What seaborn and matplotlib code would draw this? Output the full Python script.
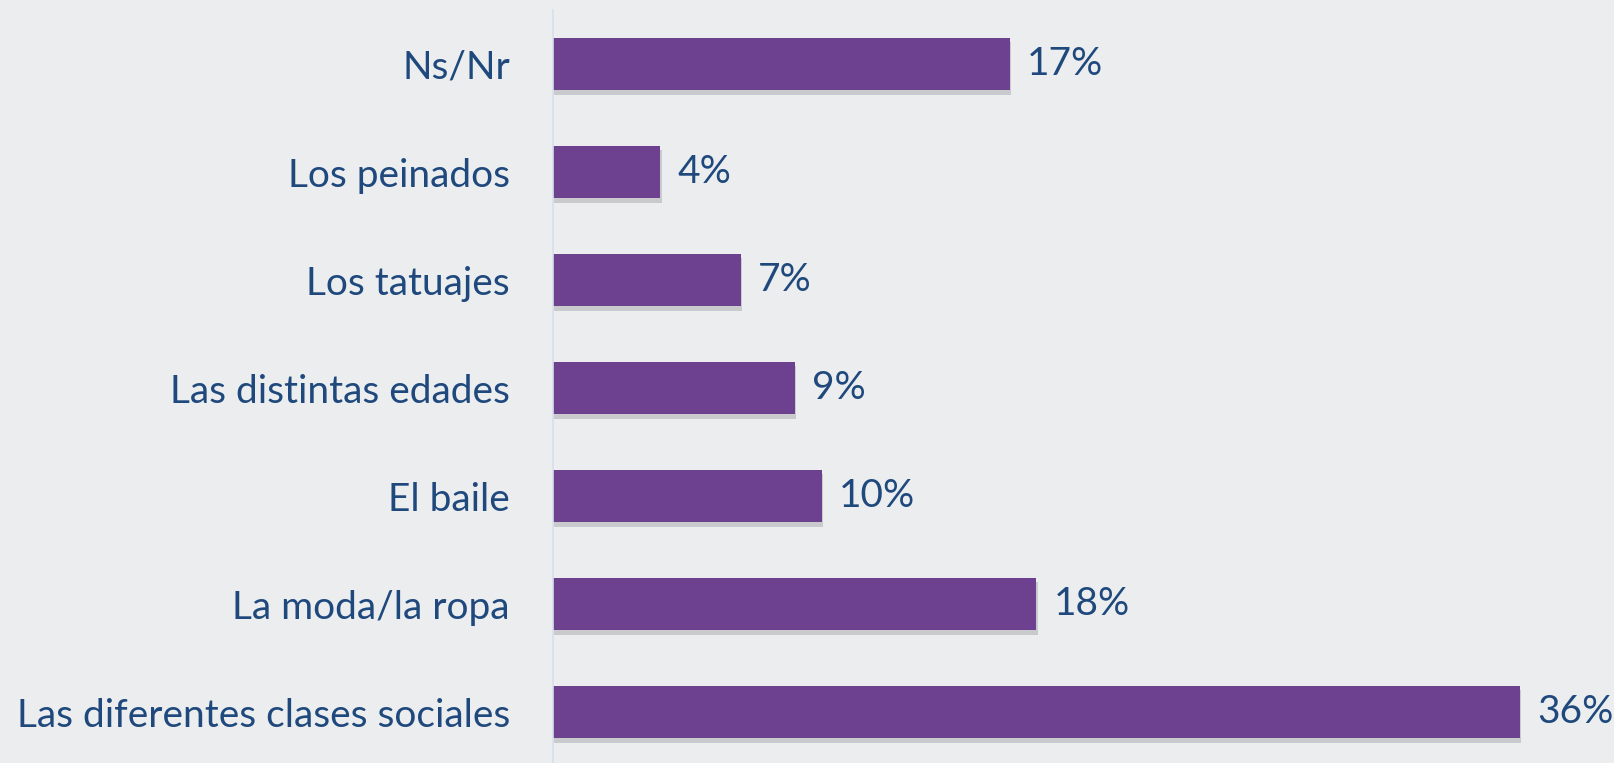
import matplotlib
matplotlib.use("Agg")
import matplotlib.pyplot as plt
import matplotlib.patheffects as pe
import seaborn as sns
import pandas as pd

# === DATA ===
categories = [
    "Ns/Nr",
    "Los peinados",
    "Los tatuajes",
    "Las distintas edades",
    "El baile",
    "La moda/la ropa",
    "Las diferentes clases sociales",
]
values = [17, 4, 7, 9, 10, 18, 36]

BG = "#ECEDEF"
BAR = "#6E4190"
TEXT = "#1F497D"

# === STYLE CONFIGURATION ===
sns.set_theme(style="white")
plt.rcParams["font.family"] = ["Lato", "DejaVu Sans"]

df = pd.DataFrame({"categoria": categories, "pct": values})

fig = plt.figure(figsize=(16.14, 7.63), dpi=100, facecolor=BG)
ax = fig.add_axes([553 / 1614, -3 / 763, 1 - 553 / 1614, 756 / 763])
ax.set_facecolor(BG)

sns.barplot(data=df, y="categoria", x="pct", color=BAR, width=0.49,
            orient="h", ax=ax, saturation=1, linewidth=0)

# --- ombre legere sous les barres ---
for bar in ax.patches:
    bar.set_path_effects([pe.SimplePatchShadow(offset=(1, -3), shadow_rgbFace="#8a8a8a", alpha=0.35),
                          pe.Normal()])

ax.set_xlim(0, 39.5)
ax.set_ylim(6.5, -0.5)
ax.set_xlabel("")
ax.set_ylabel("")
ax.set_xticks([])
for side in ["top", "right", "bottom"]:
    ax.spines[side].set_visible(False)
ax.spines["left"].set_color("#D3E0EE")
ax.spines["left"].set_linewidth(1.2)
ax.tick_params(axis="y", length=0, pad=31, labelsize=28, labelcolor=TEXT)

for i, v in enumerate(values):
    ax.annotate(f"{v}%", xy=(v, i), xytext=(17, 0), textcoords="offset pixels",
                va="center", ha="left", fontsize=28, color=TEXT)

fig.savefig("out.png", dpi=100, facecolor=BG)
plt.close()
